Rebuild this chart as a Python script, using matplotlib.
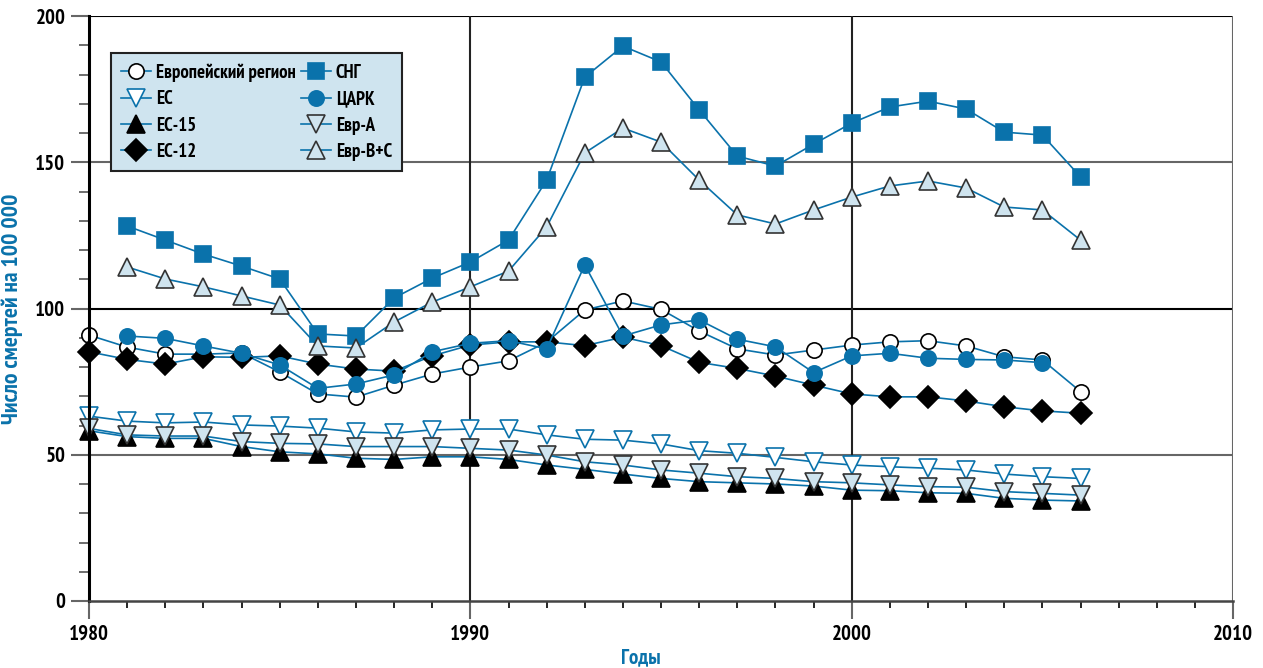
import matplotlib.pyplot as plt
from matplotlib.ticker import MultipleLocator

plt.rcParams['font.family'] = ['PT Sans Narrow', 'DejaVu Sans']
plt.rcParams['font.weight'] = 'bold'

years = list(range(1980, 2007))

evro_region = [90.9, 86.8, 84.4, 84.4, 84.8, 78.3, 70.8, 69.7, 73.8, 77.6, 80.0, 82.1, 88.5,
               99.5, 102.6, 99.7, 92.3, 86.2, 84.1, 85.8, 87.5, 88.6, 89.0, 87.2, 83.5, 82.4, 71.6]
es = [63.2, 61.5, 60.9, 61.2, 60.2, 59.8, 59.1, 57.8, 57.4, 58.5, 58.8, 58.8, 56.8,
      55.3, 55.0, 53.7, 51.4, 50.5, 49.1, 47.6, 46.5, 45.9, 45.4, 44.8, 43.4, 42.5, 41.9]
es15 = [58.2, 56.2, 55.6, 55.6, 52.8, 51.0, 50.3, 48.8, 48.4, 49.3, 49.3, 48.4, 46.5,
        45.0, 43.4, 41.9, 40.8, 40.4, 40.0, 39.3, 37.9, 37.7, 37.0, 36.8, 35.1, 34.5, 34.2]
es12 = [85.2, 82.6, 81.0, 83.5, 83.3, 83.8, 81.0, 79.3, 78.6, 83.8, 87.5, 88.6, 88.6,
        87.3, 90.2, 87.3, 81.6, 79.5, 76.9, 73.8, 70.8, 69.8, 69.8, 68.4, 66.4, 65.0, 64.2]
sng = [None, 128.2, 123.4, 118.6, 114.5, 110.1, 91.3, 90.6, 103.6, 110.4, 115.9, 123.4, 143.9,
       179.1, 189.7, 184.3, 167.9, 152.1, 148.7, 156.2, 163.4, 168.9, 170.9, 168.2, 160.3, 159.3, 145.0]
cark = [None, 90.6, 89.8, 87.2, 84.7, 80.7, 72.7, 74.2, 77.3, 85.2, 88.1, 89.0, 86.2,
        114.9, 90.6, 94.4, 96.1, 89.5, 86.9, 78.1, 83.8, 84.7, 83.0, 82.6, 82.4, 81.5, None]
evr_a = [59.0, 56.8, 56.4, 56.4, 54.5, 53.9, 53.7, 52.8, 52.8, 52.8, 52.2, 51.6, 49.9,
         47.6, 46.5, 44.8, 43.7, 42.5, 41.9, 40.8, 40.4, 39.7, 39.1, 38.9, 37.4, 36.8, 36.2]
evr_bc = [None, 114.2, 110.1, 107.4, 104.3, 101.2, 87.2, 86.5, 95.4, 102.2, 107.4, 112.8, 127.9,
          153.2, 161.7, 156.9, 143.9, 132.0, 128.9, 133.7, 138.1, 141.9, 143.6, 141.2, 134.7, 133.7, 123.4]

blue = '#0a72ab'
light = '#cfe4ef'

fig = plt.figure(figsize=(12.63, 6.68), dpi=100)
ax = fig.add_axes([0.0705, 0.1003, 0.9058, 0.8757])

def line(vals, label, marker, face, edge, ms):
    ax.plot(years, [float('nan') if v is None else v for v in vals], color=blue, lw=1.2,
            marker=marker, ms=ms, mfc=face, mec=edge, mew=1.2, label=label, clip_on=False)

line(evro_region, 'Европейский регион', 'o', 'white', 'black', 11)
line(es, 'ЕС', 'v', 'white', blue, 13)
line(es15, 'ЕС-15', '^', 'black', 'black', 13)
line(es12, 'ЕС-12', 'D', 'black', 'black', 11.5)
line(sng, 'СНГ', 's', blue, blue, 11)
line(cark, 'ЦАРК', 'o', blue, blue, 11)
line(evr_a, 'Евр-A', 'v', light, '#333333', 13)
line(evr_bc, 'Евр-B+C', '^', light, '#333333', 13)

ax.set_xlim(1980, 2010)
ax.set_ylim(0, 200)
ax.set_xticks([1980, 1990, 2000, 2010])
ax.set_yticks([0, 50, 100, 150, 200])
ax.xaxis.set_minor_locator(MultipleLocator(1))
ax.yaxis.set_minor_locator(MultipleLocator(10))
ax.tick_params(axis='both', which='major', length=13, width=1.5, color='#666666',
               labelsize=15, pad=4)
ax.tick_params(axis='x', which='minor', length=5, width=1.2, color='black')
ax.tick_params(axis='y', which='minor', length=7, width=1.2, color='#555555')

# grid lines
for y, c in [(50, '#666666'), (100, 'black'), (150, '#666666'), (200, 'black')]:
    ax.axhline(y, color=c, lw=1.5, zorder=0)
for x, c in [(1990, '#222222'), (2000, '#222222'), (2010, '#666666')]:
    ax.axvline(x, color=c, lw=1.5, zorder=0)

for s in ['top', 'right']:
    ax.spines[s].set_visible(False)
ax.spines['left'].set_linewidth(2.2)
ax.spines['bottom'].set_linewidth(1.8)
ax.spines['bottom'].set_color('#444444')

ax.set_ylabel('Число смертей на 100 000', color=blue, fontsize=17, fontweight='bold')
ax.yaxis.set_label_coords(-0.058, 0.5)
ax.set_xlabel('Годы', color=blue, fontsize=15, fontweight='bold')
ax.xaxis.set_label_coords(0.482, -0.08)

leg = ax.legend(ncol=2, loc='upper left', bbox_to_anchor=(0.019, 0.937), fontsize=13.5,
                frameon=True, fancybox=False, handlelength=1.6, columnspacing=0.3,
                handletextpad=0.25, labelspacing=0.45, borderpad=0.55, borderaxespad=0)
leg.get_frame().set_facecolor(light)
leg.get_frame().set_edgecolor('#222222')
leg.get_frame().set_linewidth(1.5)
leg.get_frame().set_alpha(1)

fig.savefig('out.png', dpi=100)
